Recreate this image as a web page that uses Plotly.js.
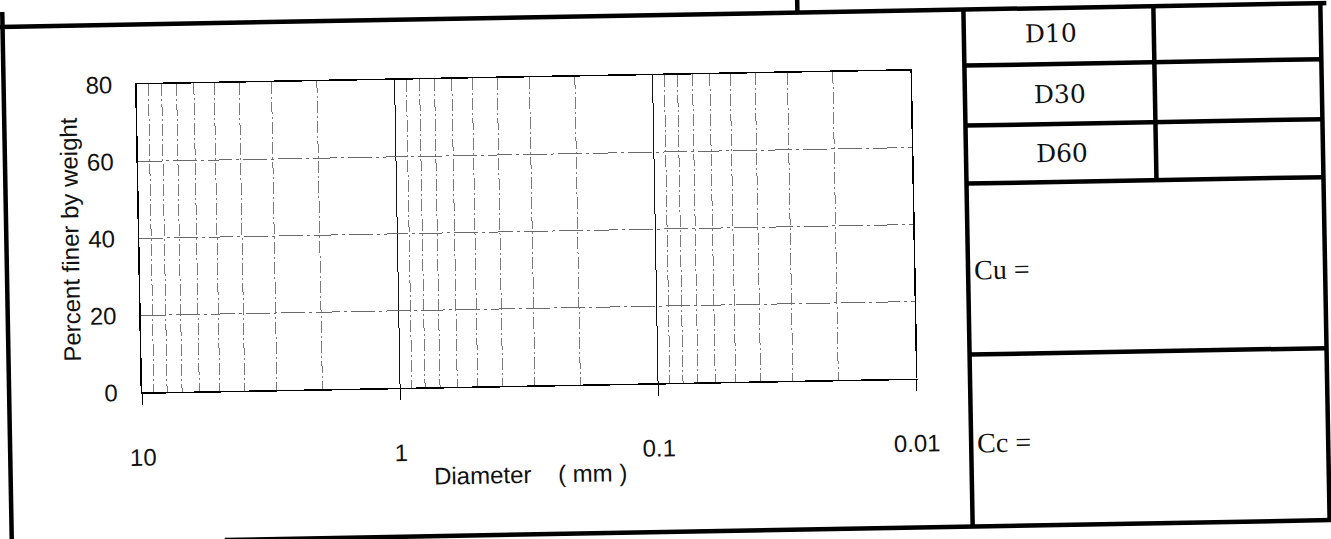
<!DOCTYPE html>
<html>
<head>
<meta charset="utf-8">
<script src="https://cdn.plot.ly/plotly-3.0.1.min.js"></script>
<style>
  html, body { margin: 0; padding: 0; background: #ffffff; overflow: hidden; }
  #chart { width: 1331px; height: 539px; transform: rotate(-1.03deg); transform-origin: 50% 50%; }
</style>
</head>
<body>
<div id="chart"></div>
<script>
// ---- chart data (blank grain-size form: no measured points) ----
const diameterMm = [];          // sieve diameters (mm) - none recorded
const percentFiner = [];        // percent finer by weight - none recorded
const xTickVals = [10, 1, 0.1, 0.01];
const xTickText = ['10', '1', '0.1', '0.01'];
const xMinorGrid = [9, 8, 7, 6, 5, 4, 3, 2,
                    0.9, 0.8, 0.7, 0.6, 0.5, 0.4, 0.3, 0.2,
                    0.09, 0.08, 0.07, 0.06, 0.05, 0.04, 0.03, 0.02];
const yTickVals = [0, 20, 40, 60, 80];
const tableLabels = ['D10', 'D30', 'D60'];
const coefLabels = ['Cu =', 'Cc ='];

// ---- layout geometry (pixels of the 1331x539 page) ----
const W = 1331, H = 539;
const M = { l: 140, r: 417, t: 75, b: 156 };
const PW = W - M.l - M.r, PH = H - M.t - M.b;
const px = x => (x - M.l) / PW;
const py = y => (H - M.b - y) / PH;

function line(x0, y0, x1, y1, w) {
  return { type: 'line', xref: 'paper', yref: 'paper',
           x0: px(x0), y0: py(y0), x1: px(x1), y1: py(y1),
           line: { color: '#000', width: w || 4.5 }, layer: 'above' };
}

const shapes = [
  line(-20, 15, 1360, 15),        // top rule
  line(802, -20, 802, 15),        // header divider
  line(7, -30, 7, 570),           // left edge
  line(968, 15, 968, 532),        // right panel left edge
  line(1158, 15, 1158, 189),      // table column divider
  line(1325, 15, 1325, 532),      // right panel right edge
  line(968, 71, 1325, 71),
  line(968, 131, 1325, 131),
  line(968, 189, 1325, 189),
  line(968, 360, 1325, 360),      // Cu / Cc divider
  line(220, 532, 1360, 532)       // bottom rule
];

const tablePos = [[1055, 41], [1063, 101], [1064, 160]];
const coefPos = [[972, 275], [972, 448]];
const annotations = [];
tableLabels.forEach((t, i) => annotations.push({
  text: t, xref: 'paper', yref: 'paper', x: px(tablePos[i][0]), y: py(tablePos[i][1]),
  xanchor: 'center', yanchor: 'middle', showarrow: false,
  font: { family: 'DejaVu Serif', size: 25, color: '#111' }
}));
coefLabels.forEach((t, i) => annotations.push({
  text: t, xref: 'paper', yref: 'paper', x: px(coefPos[i][0]), y: py(coefPos[i][1]),
  xanchor: 'left', yanchor: 'middle', showarrow: false,
  font: { family: 'Liberation Serif', size: 28, color: '#111' }
}));

const data = [{
  type: 'scatter', mode: 'lines+markers', x: diameterMm, y: percentFiner,
  showlegend: false, line: { color: '#000' }
}];

const axisFont = { family: 'Liberation Sans, Arial, sans-serif', size: 24, color: '#111' };

const layout = {
  width: W, height: H,
  margin: M,
  paper_bgcolor: '#ffffff', plot_bgcolor: '#ffffff',
  showlegend: false,
  xaxis: {
    type: 'log', range: [1, -2], fixedrange: true,
    tickmode: 'array', tickvals: xTickVals, ticktext: xTickText,
    ticks: 'outside', ticklen: 11, tickwidth: 1, tickcolor: '#000',
    tickfont: axisFont, ticklabelstandoff: 32,
    showgrid: true, gridcolor: '#111', gridwidth: 1,
    showline: true, mirror: true, linecolor: '#000', linewidth: 1.5,
    zeroline: false, automargin: false,
    minor: { tickmode: 'array', tickvals: xMinorGrid, ticks: '',
             showgrid: true, gridcolor: '#7a7a7a', gridwidth: 1, griddash: '12px,3px,2px,3px' },
    title: { text: 'Diameter\u00A0\u00A0\u00A0\u00A0( mm )', font: { family: 'Liberation Sans, Arial, sans-serif', size: 24, color: '#111' }, standoff: 3 }
  },
  yaxis: {
    range: [0, 80], fixedrange: true,
    tickmode: 'array', tickvals: yTickVals,
    ticks: '', tickfont: axisFont, ticklabelstandoff: 18,
    showgrid: true, gridcolor: '#6a6a6a', gridwidth: 1, griddash: '24px,4px,3px,4px',
    showline: true, mirror: true, linecolor: '#000', linewidth: 1.5,
    zeroline: false, automargin: false,
    title: { text: 'Percent finer by weight', font: { family: 'Liberation Sans, Arial, sans-serif', size: 24, color: '#111' }, standoff: 2 }
  },
  shapes: shapes,
  annotations: annotations
};

Plotly.newPlot('chart', data, layout, { staticPlot: true, displayModeBar: false });
</script>
</body>
</html>
